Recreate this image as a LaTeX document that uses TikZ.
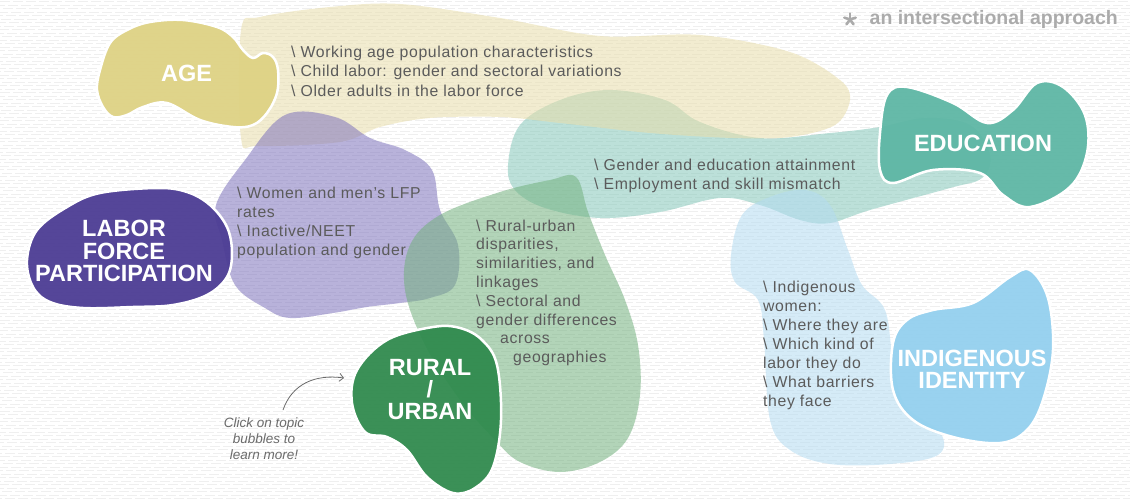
\documentclass[tikz,border=0pt]{standalone}
\usepackage{fontspec}
\setmainfont{Liberation Sans}
\newfontfamily\itemfont[LetterSpace=4]{Liberation Sans}
\usetikzlibrary{arrows.meta}

% solid topic bubbles
\definecolor{agecol}{HTML}{DED283}
\definecolor{lfpcol}{HTML}{4B3B93}
\definecolor{ruralcol}{HTML}{2F8A4D}
\definecolor{educol}{HTML}{5DB6A4}
\definecolor{indcol}{HTML}{93D0EE}
% translucent halos behind the subtopic lists
\definecolor{agehalo}{HTML}{E9DEAA}
\definecolor{lfphalo}{HTML}{7E73BC}
\definecolor{ruralhalo}{HTML}{73B17E}
\definecolor{eduhalo}{HTML}{85C7BA}
\definecolor{indhalo}{HTML}{B3DBF2}
% text and paper
\definecolor{itemgray}{HTML}{5B5B5B}
\definecolor{notegray}{HTML}{6B6B6B}
\definecolor{taggray}{HTML}{ABABAB}
\definecolor{paperline}{HTML}{EFEFEF}

\begin{document}
\begin{tikzpicture}[x=1pt,y=-1pt,
  texture/.style={draw=paperline, line width=1pt, dash pattern=on 10pt off 3pt},
  halo/.style={fill opacity=0.55},
  topic/.style={draw=white, line width=2.5pt, fill opacity=0.94},
  topiclabel/.style={text=white, inner sep=0pt, anchor=north, align=center,
    font=\fontsize{23.5}{22}\selectfont\bfseries},
  itemtext/.style={text=itemgray, inner sep=0pt, anchor=north west, align=left,
    font=\itemfont\fontsize{15.8}{19}\selectfont},
  hintarrow/.style={draw=notegray, line width=0.8pt,
    -{Straight Barb[length=4pt,width=8pt]}}
]
\useasboundingbox (0,0) rectangle (1130,500);
\fill[white] (0,0) rectangle (1130,500);

% lined paper texture
\foreach \i [evaluate=\i as \yy using {1.75+3.5*\i},
             evaluate=\i as \ph using {mod(\i*5,13)}] in {0,...,142}
  \draw[texture, dash phase=\ph pt] (0,\yy) -- (1130,\yy);

% ---- halos ----
% education
\fill[eduhalo, halo] plot[smooth cycle, tension=0.6] coordinates {
  (508,165) (520,125) (560,100) (610,90) (665,100) (700,122) (760,138)
  (830,133) (880,127) (925,118) (970,125) (990,155) (982,178) (950,188)
  (870,210) (830,223) (800,220) (760,205) (720,198) (660,212) (600,218)
  (545,208) (515,190)};
% age
\fill[agehalo, halo] plot[smooth cycle, tension=0.55] coordinates {
  (241,30) (260,17) (330,7) (400,4) (500,18) (600,36) (700,35) (790,52)
  (840,80) (850,100) (835,125) (790,137) (733,138) (650,133) (560,123)
  (500,117) (430,118) (380,127) (340,142) (258,146) (241,138)};
% labor force participation
\fill[lfphalo, halo] plot[smooth cycle, tension=0.6] coordinates {
  (216,205) (245,160) (285,115) (335,117) (370,138) (405,150) (432,170)
  (440,210) (458,245) (455,285) (430,298) (400,303) (367,307) (333,313)
  (290,318) (265,308) (235,285) (222,240)};
% rural / urban
\fill[ruralhalo, halo] plot[smooth cycle, tension=0.6] coordinates {
  (576,177) (588,212) (605,255) (625,300) (638,345) (640,395) (628,438)
  (600,462) (560,472) (520,462) (495,440) (460,400) (425,345) (405,290)
  (410,245) (440,215) (500,192) (550,180)};
% indigenous identity
\fill[indhalo, halo] plot[smooth cycle, tension=0.6] coordinates {
  (731,255) (742,215) (770,197) (805,190) (830,205) (848,250) (862,285)
  (885,310) (893,360) (905,405) (940,432) (938,455) (890,464) (830,464)
  (790,450) (770,420) (764,340) (758,300) (735,282)};

% ---- topic bubbles ----
\draw[topic, fill=agecol] plot[smooth cycle, tension=0.6] coordinates {
  (97,90) (100,70) (110,43) (127,30) (150,22) (183,20) (217,27) (233,37)
  (243,50) (253,58) (263,53) (273,57) (278,70) (277,93) (267,113)
  (253,125) (233,127) (200,120) (167,103) (143,107) (127,115) (113,117)
  (103,107)};
\draw[topic, fill=lfpcol] plot[smooth cycle, tension=0.6] coordinates {
  (157,188) (100,193) (67,207) (37,230) (27,260) (33,287) (50,302)
  (83,308) (133,307) (173,305) (207,295) (227,277) (232,253) (227,227)
  (210,205) (187,192)};
\draw[topic, fill=ruralcol] plot[smooth cycle, tension=0.6] coordinates {
  (433,327) (460,328) (482,340) (497,365) (501,420) (493,467) (475,488)
  (453,493) (427,477) (407,450) (387,437) (365,432) (352,403) (357,370)
  (387,340)};
\draw[topic, fill=educol] plot[smooth cycle, tension=0.6] coordinates {
  (880,133) (887,95) (907,87) (953,103) (987,123) (1013,110) (1037,83)
  (1063,87) (1085,115) (1087,153) (1070,187) (1030,207) (1003,195)
  (980,173) (933,170) (893,183) (880,170)};
\draw[topic, fill=indcol] plot[smooth cycle, tension=0.6] coordinates {
  (1010,277) (1030,270) (1048,298) (1053,350) (1043,400) (1027,430)
  (1000,443) (953,437) (913,420) (893,390) (893,343) (907,320) (933,310)
  (973,303)};

% ---- topic names ----
\node[topiclabel] (age) at (186.5,65.2) {AGE};
\node[topiclabel, font=\fontsize{23.5}{22.5}\selectfont\bfseries] (lfp)
  at (124,220.2) {LABOR\\FORCE\\PARTICIPATION};
\node[topiclabel] (rural) at (430,359.2) {RURAL\\/\\URBAN};
\node[topiclabel] (edu) at (983,135.2) {EDUCATION};
\node[topiclabel] (ind) at (972,350.2) {INDIGENOUS\\IDENTITY};

% ---- subtopic lists ----
\node[itemtext, font=\itemfont\fontsize{15.8}{19.5}\selectfont] (ageitems)
  at (291,45.5)
  {\textbackslash{} Working age population characteristics\\
   \textbackslash{} Child labor: gender and sectoral variations\\
   \textbackslash{} Older adults in the labor force};
\node[itemtext] (lfpitems) at (237,186.5)
  {\textbackslash{} Women and men’s LFP\\
   rates\\
   \textbackslash{} Inactive/NEET\\
   population and gender};
\node[itemtext, font=\itemfont\fontsize{15.8}{18.8}\selectfont] (ruralitems)
  at (476,219.5)
  {\textbackslash{} Rural-urban\\
   disparities,\\
   similarities, and\\
   linkages\\
   \textbackslash{} Sectoral and\\
   gender differences\\
   \hspace*{24pt}across\\
   \hspace*{37pt}geographies};
\node[itemtext] (eduitems) at (594,158.5)
  {\textbackslash{} Gender and education attainment\\
   \textbackslash{} Employment and skill mismatch};
\node[itemtext] (inditems) at (763,280.5)
  {\textbackslash{} Indigenous\\
   women:\\
   \textbackslash{} Where they are\\
   \textbackslash{} Which kind of\\
   labor they do\\
   \textbackslash{} What barriers\\
   they face};

% ---- hint with arrow ----
\node[text=notegray, inner sep=0pt, anchor=north, align=center,
      font=\fontsize{13.5}{16}\selectfont\itshape] (hint) at (264,417.5)
  {Click on topic\\bubbles to\\learn more!};
\coordinate (hintstart) at (283,410);
\coordinate (hintend) at (344,378);
\draw[hintarrow] (hintstart) .. controls (292,384) and (315,374) .. (hintend);

% ---- tag line ----
\node[text=taggray, inner sep=0pt, anchor=base east,
      font=\fontsize{19.5}{22}\selectfont\bfseries] (tag) at (1118,25)
  {an intersectional approach};
\coordinate (asterisk) at (850,19.5);
\foreach \a in {-90,-18,54,126,198}
  \draw[taggray, line width=2.6pt, line cap=round] (asterisk) -- ++(\a:6);
\end{tikzpicture}
\end{document}
